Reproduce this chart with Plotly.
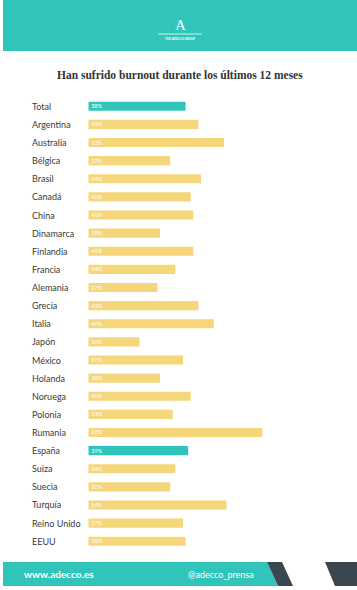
import plotly.graph_objects as go

countries = ["Total", "Argentina", "Australia", "Bélgica", "Brasil", "Canadá", "China",
             "Dinamarca", "Finlandia", "Francia", "Alemania", "Grecia", "Italia", "Japón",
             "México", "Holanda", "Noruega", "Polonia", "Rumania", "España", "Suiza",
             "Suecia", "Turquía", "Reino Unido", "EEUU"]
values = [38, 43, 53, 32, 44, 40, 41, 28, 41, 34, 27, 43, 49, 20, 37, 28, 40, 33, 68, 39,
          34, 32, 54, 37, 38]
highlight = ["Total", "España"]

TEAL = "#31C4BB"
YELLOW = "#F5D67B"
DARK = "#3A4750"
W, H = 357, 590

colors = [TEAL if c in highlight else YELLOW for c in countries]
labels = [f"{v}%" for v in values]

fig = go.Figure()
fig.add_trace(go.Bar(
    y=countries, x=values, orientation="h",
    marker=dict(color=colors, line=dict(width=0)),
    width=0.5,
    text=labels, textposition="inside", insidetextanchor="start", constraintext="none",
    textfont=dict(family="Lato", size=5.5, color="white"),
    hoverinfo="skip",
))

def px(x):
    return x / W

def py(y):
    return 1 - y / H

shapes = []
shapes.append(dict(type="rect", xref="paper", yref="paper", x0=px(3), x1=1, y0=py(51), y1=1,
                   fillcolor=TEAL, line=dict(width=0), layer="below"))
shapes.append(dict(type="line", xref="paper", yref="paper", x0=px(158), x1=px(202), y0=py(34), y1=py(34),
                   line=dict(color="white", width=0.8)))

def path(pts):
    return "M " + " L ".join(f"{px(x)},{py(y)}" for x, y in pts) + " Z"

shapes.append(dict(type="path", xref="paper", yref="paper",
                   path=path([(3, 562), (267, 562), (278, 586), (3, 586)]),
                   fillcolor=TEAL, line=dict(width=0)))
shapes.append(dict(type="path", xref="paper", yref="paper",
                   path=path([(267, 562), (282, 562), (293, 586), (278, 586)]),
                   fillcolor=DARK, line=dict(width=0)))
shapes.append(dict(type="path", xref="paper", yref="paper",
                   path=path([(325, 562), (357, 562), (357, 586), (335, 586)]),
                   fillcolor=DARK, line=dict(width=0)))

annotations = []
for c in countries:
    annotations.append(dict(x=px(30), xref="paper", y=c, yref="y", text=c, showarrow=False,
                            xanchor="left", yanchor="middle",
                            font=dict(family="Lato", size=9, color="#3a3a3a")))
annotations += [
    dict(x=px(180), y=py(75), xref="paper", yref="paper", showarrow=False,
         text="<b>Han sufrido burnout durante los últimos 12 meses</b>",
         font=dict(family="Liberation Serif", size=11.5, color="#333333"),
         xanchor="center", yanchor="middle"),
    dict(x=px(180), y=py(25), xref="paper", yref="paper", showarrow=False, text="A",
         font=dict(family="Liberation Serif", size=15, color="white"), xanchor="center", yanchor="middle"),
    dict(x=px(180), y=py(38.5), xref="paper", yref="paper", showarrow=False, text="<b>THE ADECCO GROUP</b>",
         font=dict(family="Lato", size=3, color="white"), xanchor="center", yanchor="middle"),
    dict(x=px(22), y=py(574), xref="paper", yref="paper", showarrow=False, text="<b>www.adecco.es</b>",
         font=dict(family="Lato", size=10, color="white"), xanchor="left", yanchor="middle"),
    dict(x=px(186), y=py(574), xref="paper", yref="paper", showarrow=False, text="@adecco_prensa",
         font=dict(family="Lato", size=9, color="white"), xanchor="left", yanchor="middle"),
]

fig.update_layout(
    width=W, height=H, margin=dict(l=0, r=0, t=0, b=0),
    paper_bgcolor="white", plot_bgcolor="white",
    showlegend=False, shapes=shapes, annotations=annotations,
    xaxis=dict(range=[0, 100], domain=[88.3 / W, 344.3 / W], visible=False, fixedrange=True),
    yaxis=dict(categoryorder="array", categoryarray=countries, autorange=False,
               range=[24.5, -0.5], domain=[py(550.3), py(97.2)], visible=False, fixedrange=True),
    bargap=0.5,
)

fig.write_html("out.html", config={"displayModeBar": False},
               post_script="document.body.style.margin='0';document.body.style.overflow='hidden';")
